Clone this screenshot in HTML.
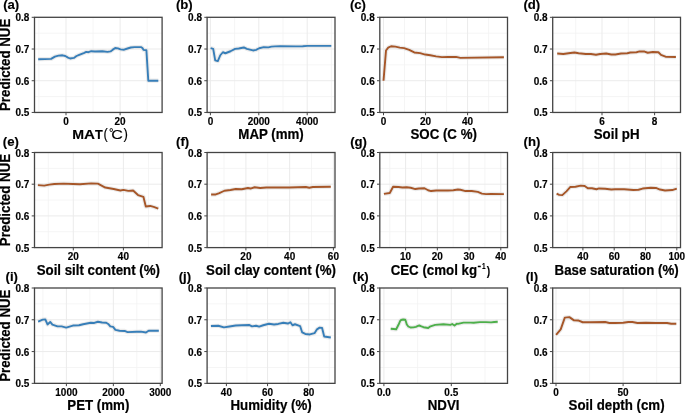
<!DOCTYPE html><html><head><meta charset="utf-8"><style>
html,body{margin:0;padding:0;background:#fff;}
svg{display:block;will-change:transform;}
text{font-family:"Liberation Sans",sans-serif;}
.tk{font-size:10.00px;font-weight:bold;fill:#000;}
.tt{font-size:13.30px;font-weight:bold;fill:#000;stroke:#000;stroke-width:0.2px;}
.lb{font-size:13.15px;font-weight:bold;fill:#000;}
path.tp{fill:#000;stroke:#000;stroke-width:0.25px;}
text.tx{fill:#000;stroke:#000;stroke-width:0.15px;}
text.t2{fill:#000;stroke:#000;stroke-width:0.20px;}
</style></head><body>
<svg width="685" height="413" viewBox="0 0 685 413">
<rect x="0" y="0" width="685" height="413" fill="#fff"/>
<g><clipPath id="cpa"><rect x="34.50" y="17.30" width="127.60" height="95.15"/></clipPath><line x1="38.95" y1="17.30" x2="38.95" y2="112.45" stroke="#F2F2F2" stroke-width="0.8"/><line x1="93.05" y1="17.30" x2="93.05" y2="112.45" stroke="#F2F2F2" stroke-width="0.8"/><line x1="147.15" y1="17.30" x2="147.15" y2="112.45" stroke="#F2F2F2" stroke-width="0.8"/><line x1="34.50" y1="96.59" x2="162.10" y2="96.59" stroke="#F2F2F2" stroke-width="0.8"/><line x1="34.50" y1="64.88" x2="162.10" y2="64.88" stroke="#F2F2F2" stroke-width="0.8"/><line x1="34.50" y1="33.16" x2="162.10" y2="33.16" stroke="#F2F2F2" stroke-width="0.8"/><line x1="66.00" y1="17.30" x2="66.00" y2="112.45" stroke="#EBEBEB" stroke-width="1"/><line x1="120.10" y1="17.30" x2="120.10" y2="112.45" stroke="#EBEBEB" stroke-width="1"/><line x1="34.50" y1="80.73" x2="162.10" y2="80.73" stroke="#EBEBEB" stroke-width="1"/><line x1="34.50" y1="49.02" x2="162.10" y2="49.02" stroke="#EBEBEB" stroke-width="1"/><path d="M38.20 59.20 L51.10 58.90 L54.90 56.60 L58.50 55.60 L62.50 55.30 L65.30 56.00 L68.00 57.60 L70.10 58.50 L73.90 57.90 L76.50 56.00 L78.60 55.10 L84.30 52.80 L86.20 51.90 L88.40 52.20 L91.30 51.20 L95.00 51.50 L102.30 51.20 L107.50 51.90 L110.50 51.40 L112.50 49.90 L115.20 48.00 L118.00 48.40 L120.50 49.40 L124.10 49.70 L127.50 48.50 L130.80 47.50 L134.60 47.10 L141.30 47.10 L142.60 48.30 L143.60 49.90 L146.40 50.30 L148.30 80.70 L158.30 80.70" fill="none" stroke="#DDDDDD" stroke-opacity="0.6" stroke-width="4.2" stroke-linejoin="round" stroke-linecap="butt" clip-path="url(#cpa)"/><path d="M38.20 59.20 L51.10 58.90 L54.90 56.60 L58.50 55.60 L62.50 55.30 L65.30 56.00 L68.00 57.60 L70.10 58.50 L73.90 57.90 L76.50 56.00 L78.60 55.10 L84.30 52.80 L86.20 51.90 L88.40 52.20 L91.30 51.20 L95.00 51.50 L102.30 51.20 L107.50 51.90 L110.50 51.40 L112.50 49.90 L115.20 48.00 L118.00 48.40 L120.50 49.40 L124.10 49.70 L127.50 48.50 L130.80 47.50 L134.60 47.10 L141.30 47.10 L142.60 48.30 L143.60 49.90 L146.40 50.30 L148.30 80.70 L158.30 80.70" fill="none" stroke="#377EB8" stroke-width="1.9" stroke-linejoin="round" stroke-linecap="butt" clip-path="url(#cpa)"/><rect x="34.50" y="17.30" width="127.60" height="95.15" fill="none" stroke="#444" stroke-width="1.3"/><line x1="31.70" y1="112.45" x2="34.50" y2="112.45" stroke="#444" stroke-width="1.0"/><text class="tx" x="0" y="0" text-anchor="end" transform="translate(29.40 116.45) scale(1 1.0400)" style="font-size:10.00px;font-weight:bold;">0.5</text><line x1="31.70" y1="80.73" x2="34.50" y2="80.73" stroke="#444" stroke-width="1.0"/><text class="tx" x="0" y="0" text-anchor="end" transform="translate(29.40 84.73) scale(1 1.0400)" style="font-size:10.00px;font-weight:bold;">0.6</text><line x1="31.70" y1="49.02" x2="34.50" y2="49.02" stroke="#444" stroke-width="1.0"/><text class="tx" x="0" y="0" text-anchor="end" transform="translate(29.40 53.02) scale(1 1.0400)" style="font-size:10.00px;font-weight:bold;">0.7</text><line x1="31.70" y1="17.30" x2="34.50" y2="17.30" stroke="#444" stroke-width="1.0"/><text class="tx" x="0" y="0" text-anchor="end" transform="translate(29.40 21.30) scale(1 1.0400)" style="font-size:10.00px;font-weight:bold;">0.8</text><line x1="66.00" y1="112.45" x2="66.00" y2="115.25" stroke="#444" stroke-width="1.0"/><text class="tx" x="0" y="0" text-anchor="middle" transform="translate(66.00 124.80) scale(1 1.0400)" style="font-size:10.00px;font-weight:bold;">0</text><line x1="120.10" y1="112.45" x2="120.10" y2="115.25" stroke="#444" stroke-width="1.0"/><text class="tx" x="0" y="0" text-anchor="middle" transform="translate(120.10 124.80) scale(1 1.0400)" style="font-size:10.00px;font-weight:bold;">20</text><text class="tx" x="0" y="0" transform="translate(72.15 139.00) scale(1.0945 1)" style="font-size:12.94px;font-weight:bold;">M</text><text class="tx" x="0" y="0" transform="translate(84.02 139.00) scale(1.1753 1)" style="font-size:12.94px;font-weight:bold;">A</text><text class="tx" x="0" y="0" transform="translate(94.96 139.00) scale(0.9845 1)" style="font-size:12.94px;font-weight:bold;">T</text><text class="tx" x="0" y="0" transform="translate(103.50 138.89) scale(0.9120 1)" style="font-size:14.06px;font-weight:normal;">(</text><text class="tx" x="0" y="0" transform="translate(108.92 137.33) scale(0.8827 1)" style="font-size:12.93px;font-weight:normal;">°</text><text class="tx" x="0" y="0" transform="translate(111.18 139.07) scale(1.2262 1)" style="font-size:13.14px;font-weight:normal;">C</text><text class="tx" x="0" y="0" transform="translate(123.62 138.89) scale(0.9388 1)" style="font-size:14.06px;font-weight:normal;">)</text><g transform="translate(9.50 64.88) rotate(-90)"><text class="t2" x="0" y="0" text-anchor="middle" transform="translate(0.00 0.00) scale(1 1.0500)" style="font-size:13.30px;font-weight:bold;">Predicted NUE</text></g><text class="tx" x="3.20" y="8.95" style="font-size:13.15px;font-weight:bold;">(a)</text></g>
<g><clipPath id="cpb"><rect x="207.10" y="17.30" width="127.90" height="95.15"/></clipPath><line x1="234.60" y1="17.30" x2="234.60" y2="112.45" stroke="#F2F2F2" stroke-width="0.8"/><line x1="283.00" y1="17.30" x2="283.00" y2="112.45" stroke="#F2F2F2" stroke-width="0.8"/><line x1="331.40" y1="17.30" x2="331.40" y2="112.45" stroke="#F2F2F2" stroke-width="0.8"/><line x1="207.10" y1="96.59" x2="335.00" y2="96.59" stroke="#F2F2F2" stroke-width="0.8"/><line x1="207.10" y1="64.88" x2="335.00" y2="64.88" stroke="#F2F2F2" stroke-width="0.8"/><line x1="207.10" y1="33.16" x2="335.00" y2="33.16" stroke="#F2F2F2" stroke-width="0.8"/><line x1="210.40" y1="17.30" x2="210.40" y2="112.45" stroke="#EBEBEB" stroke-width="1"/><line x1="258.80" y1="17.30" x2="258.80" y2="112.45" stroke="#EBEBEB" stroke-width="1"/><line x1="307.20" y1="17.30" x2="307.20" y2="112.45" stroke="#EBEBEB" stroke-width="1"/><line x1="207.10" y1="80.73" x2="335.00" y2="80.73" stroke="#EBEBEB" stroke-width="1"/><line x1="207.10" y1="49.02" x2="335.00" y2="49.02" stroke="#EBEBEB" stroke-width="1"/><path d="M210.60 48.15 L213.20 48.85 L215.20 60.35 L217.80 61.15 L220.30 55.25 L222.90 52.25 L225.40 53.25 L230.50 51.25 L235.10 48.85 L238.70 48.45 L243.80 47.45 L246.90 48.95 L253.00 50.45 L256.10 49.85 L259.20 48.25 L263.80 47.15 L268.40 47.35 L271.40 46.65 L275.00 46.35 L280.20 46.25 L295.50 46.35 L302.70 46.25 L307.30 45.85 L331.30 45.85" fill="none" stroke="#DDDDDD" stroke-opacity="0.6" stroke-width="4.2" stroke-linejoin="round" stroke-linecap="butt" clip-path="url(#cpb)"/><path d="M210.60 48.15 L213.20 48.85 L215.20 60.35 L217.80 61.15 L220.30 55.25 L222.90 52.25 L225.40 53.25 L230.50 51.25 L235.10 48.85 L238.70 48.45 L243.80 47.45 L246.90 48.95 L253.00 50.45 L256.10 49.85 L259.20 48.25 L263.80 47.15 L268.40 47.35 L271.40 46.65 L275.00 46.35 L280.20 46.25 L295.50 46.35 L302.70 46.25 L307.30 45.85 L331.30 45.85" fill="none" stroke="#377EB8" stroke-width="1.9" stroke-linejoin="round" stroke-linecap="butt" clip-path="url(#cpb)"/><rect x="207.10" y="17.30" width="127.90" height="95.15" fill="none" stroke="#444" stroke-width="1.3"/><line x1="204.30" y1="112.45" x2="207.10" y2="112.45" stroke="#444" stroke-width="1.0"/><text class="tx" x="0" y="0" text-anchor="end" transform="translate(202.00 116.45) scale(1 1.0400)" style="font-size:10.00px;font-weight:bold;">0.5</text><line x1="204.30" y1="80.73" x2="207.10" y2="80.73" stroke="#444" stroke-width="1.0"/><text class="tx" x="0" y="0" text-anchor="end" transform="translate(202.00 84.73) scale(1 1.0400)" style="font-size:10.00px;font-weight:bold;">0.6</text><line x1="204.30" y1="49.02" x2="207.10" y2="49.02" stroke="#444" stroke-width="1.0"/><text class="tx" x="0" y="0" text-anchor="end" transform="translate(202.00 53.02) scale(1 1.0400)" style="font-size:10.00px;font-weight:bold;">0.7</text><line x1="204.30" y1="17.30" x2="207.10" y2="17.30" stroke="#444" stroke-width="1.0"/><text class="tx" x="0" y="0" text-anchor="end" transform="translate(202.00 21.30) scale(1 1.0400)" style="font-size:10.00px;font-weight:bold;">0.8</text><line x1="210.40" y1="112.45" x2="210.40" y2="115.25" stroke="#444" stroke-width="1.0"/><text class="tx" x="0" y="0" text-anchor="middle" transform="translate(210.40 124.80) scale(1 1.0400)" style="font-size:10.00px;font-weight:bold;">0</text><line x1="258.80" y1="112.45" x2="258.80" y2="115.25" stroke="#444" stroke-width="1.0"/><text class="tx" x="0" y="0" text-anchor="middle" transform="translate(258.80 124.80) scale(1 1.0400)" style="font-size:10.00px;font-weight:bold;">2000</text><line x1="307.20" y1="112.45" x2="307.20" y2="115.25" stroke="#444" stroke-width="1.0"/><text class="tx" x="0" y="0" text-anchor="middle" transform="translate(307.20 124.80) scale(1 1.0400)" style="font-size:10.00px;font-weight:bold;">4000</text><text class="t2" x="0" y="0" text-anchor="middle" transform="translate(271.05 139.10) scale(1 1.0500)" style="font-size:13.30px;font-weight:bold;">MAP (mm)</text><text class="tx" x="175.90" y="8.95" style="font-size:13.15px;font-weight:bold;">(b)</text></g>
<g><clipPath id="cpc"><rect x="379.80" y="17.30" width="127.70" height="95.15"/></clipPath><line x1="404.52" y1="17.30" x2="404.52" y2="112.45" stroke="#F2F2F2" stroke-width="0.8"/><line x1="446.56" y1="17.30" x2="446.56" y2="112.45" stroke="#F2F2F2" stroke-width="0.8"/><line x1="488.60" y1="17.30" x2="488.60" y2="112.45" stroke="#F2F2F2" stroke-width="0.8"/><line x1="379.80" y1="96.59" x2="507.50" y2="96.59" stroke="#F2F2F2" stroke-width="0.8"/><line x1="379.80" y1="64.88" x2="507.50" y2="64.88" stroke="#F2F2F2" stroke-width="0.8"/><line x1="379.80" y1="33.16" x2="507.50" y2="33.16" stroke="#F2F2F2" stroke-width="0.8"/><line x1="383.50" y1="17.30" x2="383.50" y2="112.45" stroke="#EBEBEB" stroke-width="1"/><line x1="425.54" y1="17.30" x2="425.54" y2="112.45" stroke="#EBEBEB" stroke-width="1"/><line x1="467.58" y1="17.30" x2="467.58" y2="112.45" stroke="#EBEBEB" stroke-width="1"/><line x1="379.80" y1="80.73" x2="507.50" y2="80.73" stroke="#EBEBEB" stroke-width="1"/><line x1="379.80" y1="49.02" x2="507.50" y2="49.02" stroke="#EBEBEB" stroke-width="1"/><path d="M383.50 80.75 L386.00 50.55 L388.20 47.65 L391.10 46.25 L395.40 46.65 L399.80 47.65 L404.10 48.15 L409.20 49.85 L414.30 52.45 L420.10 53.15 L425.20 54.55 L430.30 55.25 L436.10 56.35 L441.90 57.15 L448.00 56.95 L456.00 56.85 L460.30 57.85 L503.90 57.25" fill="none" stroke="#DDDDDD" stroke-opacity="0.6" stroke-width="4.2" stroke-linejoin="round" stroke-linecap="butt" clip-path="url(#cpc)"/><path d="M383.50 80.75 L386.00 50.55 L388.20 47.65 L391.10 46.25 L395.40 46.65 L399.80 47.65 L404.10 48.15 L409.20 49.85 L414.30 52.45 L420.10 53.15 L425.20 54.55 L430.30 55.25 L436.10 56.35 L441.90 57.15 L448.00 56.95 L456.00 56.85 L460.30 57.85 L503.90 57.25" fill="none" stroke="#A65628" stroke-width="1.9" stroke-linejoin="round" stroke-linecap="butt" clip-path="url(#cpc)"/><rect x="379.80" y="17.30" width="127.70" height="95.15" fill="none" stroke="#444" stroke-width="1.3"/><line x1="377.00" y1="112.45" x2="379.80" y2="112.45" stroke="#444" stroke-width="1.0"/><text class="tx" x="0" y="0" text-anchor="end" transform="translate(374.70 116.45) scale(1 1.0400)" style="font-size:10.00px;font-weight:bold;">0.5</text><line x1="377.00" y1="80.73" x2="379.80" y2="80.73" stroke="#444" stroke-width="1.0"/><text class="tx" x="0" y="0" text-anchor="end" transform="translate(374.70 84.73) scale(1 1.0400)" style="font-size:10.00px;font-weight:bold;">0.6</text><line x1="377.00" y1="49.02" x2="379.80" y2="49.02" stroke="#444" stroke-width="1.0"/><text class="tx" x="0" y="0" text-anchor="end" transform="translate(374.70 53.02) scale(1 1.0400)" style="font-size:10.00px;font-weight:bold;">0.7</text><line x1="377.00" y1="17.30" x2="379.80" y2="17.30" stroke="#444" stroke-width="1.0"/><text class="tx" x="0" y="0" text-anchor="end" transform="translate(374.70 21.30) scale(1 1.0400)" style="font-size:10.00px;font-weight:bold;">0.8</text><line x1="383.50" y1="112.45" x2="383.50" y2="115.25" stroke="#444" stroke-width="1.0"/><text class="tx" x="0" y="0" text-anchor="middle" transform="translate(383.50 124.80) scale(1 1.0400)" style="font-size:10.00px;font-weight:bold;">0</text><line x1="425.54" y1="112.45" x2="425.54" y2="115.25" stroke="#444" stroke-width="1.0"/><text class="tx" x="0" y="0" text-anchor="middle" transform="translate(425.54 124.80) scale(1 1.0400)" style="font-size:10.00px;font-weight:bold;">20</text><line x1="467.58" y1="112.45" x2="467.58" y2="115.25" stroke="#444" stroke-width="1.0"/><text class="tx" x="0" y="0" text-anchor="middle" transform="translate(467.58 124.80) scale(1 1.0400)" style="font-size:10.00px;font-weight:bold;">40</text><text class="t2" x="0" y="0" text-anchor="middle" transform="translate(443.65 139.10) scale(1 1.0500)" style="font-size:13.30px;font-weight:bold;">SOC (C %)</text><text class="tx" x="349.90" y="8.95" style="font-size:13.15px;font-weight:bold;">(c)</text></g>
<g><clipPath id="cpd"><rect x="552.70" y="17.30" width="127.80" height="95.15"/></clipPath><line x1="575.70" y1="17.30" x2="575.70" y2="112.45" stroke="#F2F2F2" stroke-width="0.8"/><line x1="628.30" y1="17.30" x2="628.30" y2="112.45" stroke="#F2F2F2" stroke-width="0.8"/><line x1="552.70" y1="96.59" x2="680.50" y2="96.59" stroke="#F2F2F2" stroke-width="0.8"/><line x1="552.70" y1="64.88" x2="680.50" y2="64.88" stroke="#F2F2F2" stroke-width="0.8"/><line x1="552.70" y1="33.16" x2="680.50" y2="33.16" stroke="#F2F2F2" stroke-width="0.8"/><line x1="602.00" y1="17.30" x2="602.00" y2="112.45" stroke="#EBEBEB" stroke-width="1"/><line x1="654.60" y1="17.30" x2="654.60" y2="112.45" stroke="#EBEBEB" stroke-width="1"/><line x1="552.70" y1="80.73" x2="680.50" y2="80.73" stroke="#EBEBEB" stroke-width="1"/><line x1="552.70" y1="49.02" x2="680.50" y2="49.02" stroke="#EBEBEB" stroke-width="1"/><path d="M557.20 53.55 L563.30 53.95 L570.40 53.05 L574.50 52.45 L578.60 53.25 L585.80 54.05 L590.90 53.95 L596.00 54.75 L600.10 53.95 L606.20 53.55 L611.30 54.55 L615.40 54.45 L621.10 53.55 L627.30 53.25 L630.30 52.55 L636.50 52.25 L639.50 51.45 L644.60 51.55 L647.70 52.75 L652.80 51.95 L658.40 52.25 L661.00 54.95 L666.10 56.85 L675.90 57.05" fill="none" stroke="#DDDDDD" stroke-opacity="0.6" stroke-width="4.2" stroke-linejoin="round" stroke-linecap="butt" clip-path="url(#cpd)"/><path d="M557.20 53.55 L563.30 53.95 L570.40 53.05 L574.50 52.45 L578.60 53.25 L585.80 54.05 L590.90 53.95 L596.00 54.75 L600.10 53.95 L606.20 53.55 L611.30 54.55 L615.40 54.45 L621.10 53.55 L627.30 53.25 L630.30 52.55 L636.50 52.25 L639.50 51.45 L644.60 51.55 L647.70 52.75 L652.80 51.95 L658.40 52.25 L661.00 54.95 L666.10 56.85 L675.90 57.05" fill="none" stroke="#A65628" stroke-width="1.9" stroke-linejoin="round" stroke-linecap="butt" clip-path="url(#cpd)"/><rect x="552.70" y="17.30" width="127.80" height="95.15" fill="none" stroke="#444" stroke-width="1.3"/><line x1="549.90" y1="112.45" x2="552.70" y2="112.45" stroke="#444" stroke-width="1.0"/><text class="tx" x="0" y="0" text-anchor="end" transform="translate(547.60 116.45) scale(1 1.0400)" style="font-size:10.00px;font-weight:bold;">0.5</text><line x1="549.90" y1="80.73" x2="552.70" y2="80.73" stroke="#444" stroke-width="1.0"/><text class="tx" x="0" y="0" text-anchor="end" transform="translate(547.60 84.73) scale(1 1.0400)" style="font-size:10.00px;font-weight:bold;">0.6</text><line x1="549.90" y1="49.02" x2="552.70" y2="49.02" stroke="#444" stroke-width="1.0"/><text class="tx" x="0" y="0" text-anchor="end" transform="translate(547.60 53.02) scale(1 1.0400)" style="font-size:10.00px;font-weight:bold;">0.7</text><line x1="549.90" y1="17.30" x2="552.70" y2="17.30" stroke="#444" stroke-width="1.0"/><text class="tx" x="0" y="0" text-anchor="end" transform="translate(547.60 21.30) scale(1 1.0400)" style="font-size:10.00px;font-weight:bold;">0.8</text><line x1="602.00" y1="112.45" x2="602.00" y2="115.25" stroke="#444" stroke-width="1.0"/><text class="tx" x="0" y="0" text-anchor="middle" transform="translate(602.00 124.80) scale(1 1.0400)" style="font-size:10.00px;font-weight:bold;">6</text><line x1="654.60" y1="112.45" x2="654.60" y2="115.25" stroke="#444" stroke-width="1.0"/><text class="tx" x="0" y="0" text-anchor="middle" transform="translate(654.60 124.80) scale(1 1.0400)" style="font-size:10.00px;font-weight:bold;">8</text><text class="t2" x="0" y="0" text-anchor="middle" transform="translate(616.60 139.10) scale(1 1.0500)" style="font-size:13.30px;font-weight:bold;">Soil pH</text><text class="tx" x="523.40" y="8.95" style="font-size:13.15px;font-weight:bold;">(d)</text></g>
<g><clipPath id="cpe"><rect x="34.50" y="152.50" width="127.60" height="95.10"/></clipPath><line x1="48.25" y1="152.50" x2="48.25" y2="247.60" stroke="#F2F2F2" stroke-width="0.8"/><line x1="98.35" y1="152.50" x2="98.35" y2="247.60" stroke="#F2F2F2" stroke-width="0.8"/><line x1="148.45" y1="152.50" x2="148.45" y2="247.60" stroke="#F2F2F2" stroke-width="0.8"/><line x1="34.50" y1="231.75" x2="162.10" y2="231.75" stroke="#F2F2F2" stroke-width="0.8"/><line x1="34.50" y1="200.05" x2="162.10" y2="200.05" stroke="#F2F2F2" stroke-width="0.8"/><line x1="34.50" y1="168.35" x2="162.10" y2="168.35" stroke="#F2F2F2" stroke-width="0.8"/><line x1="73.30" y1="152.50" x2="73.30" y2="247.60" stroke="#EBEBEB" stroke-width="1"/><line x1="123.40" y1="152.50" x2="123.40" y2="247.60" stroke="#EBEBEB" stroke-width="1"/><line x1="34.50" y1="215.90" x2="162.10" y2="215.90" stroke="#EBEBEB" stroke-width="1"/><line x1="34.50" y1="184.20" x2="162.10" y2="184.20" stroke="#EBEBEB" stroke-width="1"/><path d="M37.90 185.15 L44.20 185.65 L49.30 184.65 L54.40 183.95 L63.60 183.65 L72.80 183.95 L80.00 184.25 L91.20 183.35 L97.90 183.65 L105.30 187.55 L113.70 189.05 L120.40 190.45 L123.40 189.85 L128.30 190.85 L133.10 190.55 L138.00 195.05 L143.40 196.85 L145.80 206.55 L150.10 205.95 L153.70 206.95 L158.30 208.55" fill="none" stroke="#DDDDDD" stroke-opacity="0.6" stroke-width="4.2" stroke-linejoin="round" stroke-linecap="butt" clip-path="url(#cpe)"/><path d="M37.90 185.15 L44.20 185.65 L49.30 184.65 L54.40 183.95 L63.60 183.65 L72.80 183.95 L80.00 184.25 L91.20 183.35 L97.90 183.65 L105.30 187.55 L113.70 189.05 L120.40 190.45 L123.40 189.85 L128.30 190.85 L133.10 190.55 L138.00 195.05 L143.40 196.85 L145.80 206.55 L150.10 205.95 L153.70 206.95 L158.30 208.55" fill="none" stroke="#A65628" stroke-width="1.9" stroke-linejoin="round" stroke-linecap="butt" clip-path="url(#cpe)"/><rect x="34.50" y="152.50" width="127.60" height="95.10" fill="none" stroke="#444" stroke-width="1.3"/><line x1="31.70" y1="247.60" x2="34.50" y2="247.60" stroke="#444" stroke-width="1.0"/><text class="tx" x="0" y="0" text-anchor="end" transform="translate(29.40 251.60) scale(1 1.0400)" style="font-size:10.00px;font-weight:bold;">0.5</text><line x1="31.70" y1="215.90" x2="34.50" y2="215.90" stroke="#444" stroke-width="1.0"/><text class="tx" x="0" y="0" text-anchor="end" transform="translate(29.40 219.90) scale(1 1.0400)" style="font-size:10.00px;font-weight:bold;">0.6</text><line x1="31.70" y1="184.20" x2="34.50" y2="184.20" stroke="#444" stroke-width="1.0"/><text class="tx" x="0" y="0" text-anchor="end" transform="translate(29.40 188.20) scale(1 1.0400)" style="font-size:10.00px;font-weight:bold;">0.7</text><line x1="31.70" y1="152.50" x2="34.50" y2="152.50" stroke="#444" stroke-width="1.0"/><text class="tx" x="0" y="0" text-anchor="end" transform="translate(29.40 156.50) scale(1 1.0400)" style="font-size:10.00px;font-weight:bold;">0.8</text><line x1="73.30" y1="247.60" x2="73.30" y2="250.40" stroke="#444" stroke-width="1.0"/><text class="tx" x="0" y="0" text-anchor="middle" transform="translate(73.30 259.95) scale(1 1.0400)" style="font-size:10.00px;font-weight:bold;">20</text><line x1="123.40" y1="247.60" x2="123.40" y2="250.40" stroke="#444" stroke-width="1.0"/><text class="tx" x="0" y="0" text-anchor="middle" transform="translate(123.40 259.95) scale(1 1.0400)" style="font-size:10.00px;font-weight:bold;">40</text><text class="t2" x="0" y="0" text-anchor="middle" transform="translate(98.30 274.60) scale(1 1.0500)" style="font-size:13.30px;font-weight:bold;">Soil silt content (%)</text><g transform="translate(9.50 200.05) rotate(-90)"><text class="t2" x="0" y="0" text-anchor="middle" transform="translate(0.00 0.00) scale(1 1.0500)" style="font-size:13.30px;font-weight:bold;">Predicted NUE</text></g><text class="tx" x="2.80" y="145.55" style="font-size:13.15px;font-weight:bold;">(e)</text></g>
<g><clipPath id="cpf"><rect x="207.10" y="152.50" width="127.90" height="95.10"/></clipPath><line x1="224.03" y1="152.50" x2="224.03" y2="247.60" stroke="#F2F2F2" stroke-width="0.8"/><line x1="267.77" y1="152.50" x2="267.77" y2="247.60" stroke="#F2F2F2" stroke-width="0.8"/><line x1="311.52" y1="152.50" x2="311.52" y2="247.60" stroke="#F2F2F2" stroke-width="0.8"/><line x1="207.10" y1="231.75" x2="335.00" y2="231.75" stroke="#F2F2F2" stroke-width="0.8"/><line x1="207.10" y1="200.05" x2="335.00" y2="200.05" stroke="#F2F2F2" stroke-width="0.8"/><line x1="207.10" y1="168.35" x2="335.00" y2="168.35" stroke="#F2F2F2" stroke-width="0.8"/><line x1="245.90" y1="152.50" x2="245.90" y2="247.60" stroke="#EBEBEB" stroke-width="1"/><line x1="289.65" y1="152.50" x2="289.65" y2="247.60" stroke="#EBEBEB" stroke-width="1"/><line x1="333.40" y1="152.50" x2="333.40" y2="247.60" stroke="#EBEBEB" stroke-width="1"/><line x1="207.10" y1="215.90" x2="335.00" y2="215.90" stroke="#EBEBEB" stroke-width="1"/><line x1="207.10" y1="184.20" x2="335.00" y2="184.20" stroke="#EBEBEB" stroke-width="1"/><path d="M211.10 194.55 L215.20 194.55 L219.30 193.05 L224.40 190.75 L230.50 190.05 L235.70 189.05 L241.80 189.25 L247.90 187.95 L250.50 188.55 L254.60 187.25 L260.20 187.95 L266.30 187.55 L275.00 187.45 L289.40 187.55 L305.80 186.95 L309.30 187.75 L312.90 187.05 L330.80 186.75" fill="none" stroke="#DDDDDD" stroke-opacity="0.6" stroke-width="4.2" stroke-linejoin="round" stroke-linecap="butt" clip-path="url(#cpf)"/><path d="M211.10 194.55 L215.20 194.55 L219.30 193.05 L224.40 190.75 L230.50 190.05 L235.70 189.05 L241.80 189.25 L247.90 187.95 L250.50 188.55 L254.60 187.25 L260.20 187.95 L266.30 187.55 L275.00 187.45 L289.40 187.55 L305.80 186.95 L309.30 187.75 L312.90 187.05 L330.80 186.75" fill="none" stroke="#A65628" stroke-width="1.9" stroke-linejoin="round" stroke-linecap="butt" clip-path="url(#cpf)"/><rect x="207.10" y="152.50" width="127.90" height="95.10" fill="none" stroke="#444" stroke-width="1.3"/><line x1="204.30" y1="247.60" x2="207.10" y2="247.60" stroke="#444" stroke-width="1.0"/><text class="tx" x="0" y="0" text-anchor="end" transform="translate(202.00 251.60) scale(1 1.0400)" style="font-size:10.00px;font-weight:bold;">0.5</text><line x1="204.30" y1="215.90" x2="207.10" y2="215.90" stroke="#444" stroke-width="1.0"/><text class="tx" x="0" y="0" text-anchor="end" transform="translate(202.00 219.90) scale(1 1.0400)" style="font-size:10.00px;font-weight:bold;">0.6</text><line x1="204.30" y1="184.20" x2="207.10" y2="184.20" stroke="#444" stroke-width="1.0"/><text class="tx" x="0" y="0" text-anchor="end" transform="translate(202.00 188.20) scale(1 1.0400)" style="font-size:10.00px;font-weight:bold;">0.7</text><line x1="204.30" y1="152.50" x2="207.10" y2="152.50" stroke="#444" stroke-width="1.0"/><text class="tx" x="0" y="0" text-anchor="end" transform="translate(202.00 156.50) scale(1 1.0400)" style="font-size:10.00px;font-weight:bold;">0.8</text><line x1="245.90" y1="247.60" x2="245.90" y2="250.40" stroke="#444" stroke-width="1.0"/><text class="tx" x="0" y="0" text-anchor="middle" transform="translate(245.90 259.95) scale(1 1.0400)" style="font-size:10.00px;font-weight:bold;">20</text><line x1="289.65" y1="247.60" x2="289.65" y2="250.40" stroke="#444" stroke-width="1.0"/><text class="tx" x="0" y="0" text-anchor="middle" transform="translate(289.65 259.95) scale(1 1.0400)" style="font-size:10.00px;font-weight:bold;">40</text><line x1="333.40" y1="247.60" x2="333.40" y2="250.40" stroke="#444" stroke-width="1.0"/><text class="tx" x="0" y="0" text-anchor="middle" transform="translate(333.40 259.95) scale(1 1.0400)" style="font-size:10.00px;font-weight:bold;">60</text><text class="t2" x="0" y="0" text-anchor="middle" transform="translate(271.05 274.60) scale(1 1.0500)" style="font-size:13.30px;font-weight:bold;">Soil clay content (%)</text><text class="tx" x="176.10" y="145.55" style="font-size:13.15px;font-weight:bold;">(f)</text></g>
<g><clipPath id="cpg"><rect x="379.80" y="152.50" width="127.70" height="95.10"/></clipPath><line x1="389.73" y1="152.50" x2="389.73" y2="247.60" stroke="#F2F2F2" stroke-width="0.8"/><line x1="421.47" y1="152.50" x2="421.47" y2="247.60" stroke="#F2F2F2" stroke-width="0.8"/><line x1="453.20" y1="152.50" x2="453.20" y2="247.60" stroke="#F2F2F2" stroke-width="0.8"/><line x1="484.93" y1="152.50" x2="484.93" y2="247.60" stroke="#F2F2F2" stroke-width="0.8"/><line x1="379.80" y1="231.75" x2="507.50" y2="231.75" stroke="#F2F2F2" stroke-width="0.8"/><line x1="379.80" y1="200.05" x2="507.50" y2="200.05" stroke="#F2F2F2" stroke-width="0.8"/><line x1="379.80" y1="168.35" x2="507.50" y2="168.35" stroke="#F2F2F2" stroke-width="0.8"/><line x1="405.60" y1="152.50" x2="405.60" y2="247.60" stroke="#EBEBEB" stroke-width="1"/><line x1="437.33" y1="152.50" x2="437.33" y2="247.60" stroke="#EBEBEB" stroke-width="1"/><line x1="469.07" y1="152.50" x2="469.07" y2="247.60" stroke="#EBEBEB" stroke-width="1"/><line x1="500.80" y1="152.50" x2="500.80" y2="247.60" stroke="#EBEBEB" stroke-width="1"/><line x1="379.80" y1="215.90" x2="507.50" y2="215.90" stroke="#EBEBEB" stroke-width="1"/><line x1="379.80" y1="184.20" x2="507.50" y2="184.20" stroke="#EBEBEB" stroke-width="1"/><path d="M383.90 193.85 L389.80 193.05 L393.10 186.75 L398.40 187.05 L402.50 187.55 L406.60 187.25 L410.70 187.75 L415.30 189.05 L418.90 188.55 L424.50 188.25 L428.10 190.25 L431.10 191.05 L436.20 190.55 L448.00 190.55 L453.30 190.25 L457.90 189.55 L460.40 189.75 L465.50 191.05 L471.70 191.05 L477.80 191.85 L481.90 193.65 L486.00 194.15 L491.10 193.85 L503.90 194.15" fill="none" stroke="#DDDDDD" stroke-opacity="0.6" stroke-width="4.2" stroke-linejoin="round" stroke-linecap="butt" clip-path="url(#cpg)"/><path d="M383.90 193.85 L389.80 193.05 L393.10 186.75 L398.40 187.05 L402.50 187.55 L406.60 187.25 L410.70 187.75 L415.30 189.05 L418.90 188.55 L424.50 188.25 L428.10 190.25 L431.10 191.05 L436.20 190.55 L448.00 190.55 L453.30 190.25 L457.90 189.55 L460.40 189.75 L465.50 191.05 L471.70 191.05 L477.80 191.85 L481.90 193.65 L486.00 194.15 L491.10 193.85 L503.90 194.15" fill="none" stroke="#A65628" stroke-width="1.9" stroke-linejoin="round" stroke-linecap="butt" clip-path="url(#cpg)"/><rect x="379.80" y="152.50" width="127.70" height="95.10" fill="none" stroke="#444" stroke-width="1.3"/><line x1="377.00" y1="247.60" x2="379.80" y2="247.60" stroke="#444" stroke-width="1.0"/><text class="tx" x="0" y="0" text-anchor="end" transform="translate(374.70 251.60) scale(1 1.0400)" style="font-size:10.00px;font-weight:bold;">0.5</text><line x1="377.00" y1="215.90" x2="379.80" y2="215.90" stroke="#444" stroke-width="1.0"/><text class="tx" x="0" y="0" text-anchor="end" transform="translate(374.70 219.90) scale(1 1.0400)" style="font-size:10.00px;font-weight:bold;">0.6</text><line x1="377.00" y1="184.20" x2="379.80" y2="184.20" stroke="#444" stroke-width="1.0"/><text class="tx" x="0" y="0" text-anchor="end" transform="translate(374.70 188.20) scale(1 1.0400)" style="font-size:10.00px;font-weight:bold;">0.7</text><line x1="377.00" y1="152.50" x2="379.80" y2="152.50" stroke="#444" stroke-width="1.0"/><text class="tx" x="0" y="0" text-anchor="end" transform="translate(374.70 156.50) scale(1 1.0400)" style="font-size:10.00px;font-weight:bold;">0.8</text><line x1="405.60" y1="247.60" x2="405.60" y2="250.40" stroke="#444" stroke-width="1.0"/><text class="tx" x="0" y="0" text-anchor="middle" transform="translate(405.60 259.95) scale(1 1.0400)" style="font-size:10.00px;font-weight:bold;">10</text><line x1="437.33" y1="247.60" x2="437.33" y2="250.40" stroke="#444" stroke-width="1.0"/><text class="tx" x="0" y="0" text-anchor="middle" transform="translate(437.33 259.95) scale(1 1.0400)" style="font-size:10.00px;font-weight:bold;">20</text><line x1="469.07" y1="247.60" x2="469.07" y2="250.40" stroke="#444" stroke-width="1.0"/><text class="tx" x="0" y="0" text-anchor="middle" transform="translate(469.07 259.95) scale(1 1.0400)" style="font-size:10.00px;font-weight:bold;">30</text><line x1="500.80" y1="247.60" x2="500.80" y2="250.40" stroke="#444" stroke-width="1.0"/><text class="tx" x="0" y="0" text-anchor="middle" transform="translate(500.80 259.95) scale(1 1.0400)" style="font-size:10.00px;font-weight:bold;">40</text><text class="t2" x="0" y="0" transform="translate(390.65 274.60) scale(1 1.0500)" style="font-size:13.30px;font-weight:bold;">CEC (cmol kg</text><text class="tx" x="0" y="0" transform="translate(477.57 269.15) scale(0.9385 1)" style="font-size:11.75px;font-weight:bold;">-</text><text class="tx" x="0" y="0" transform="translate(481.89 268.80) scale(0.6620 1)" style="font-size:9.74px;font-weight:bold;">1</text><text class="tx" x="0" y="0" transform="translate(486.69 274.62) scale(0.7662 1)" style="font-size:13.41px;font-weight:bold;">)</text><text class="tx" x="350.20" y="145.55" style="font-size:13.15px;font-weight:bold;">(g)</text></g>
<g><clipPath id="cph"><rect x="552.70" y="152.50" width="127.80" height="95.10"/></clipPath><line x1="567.25" y1="152.50" x2="567.25" y2="247.60" stroke="#F2F2F2" stroke-width="0.8"/><line x1="598.55" y1="152.50" x2="598.55" y2="247.60" stroke="#F2F2F2" stroke-width="0.8"/><line x1="629.85" y1="152.50" x2="629.85" y2="247.60" stroke="#F2F2F2" stroke-width="0.8"/><line x1="661.15" y1="152.50" x2="661.15" y2="247.60" stroke="#F2F2F2" stroke-width="0.8"/><line x1="552.70" y1="231.75" x2="680.50" y2="231.75" stroke="#F2F2F2" stroke-width="0.8"/><line x1="552.70" y1="200.05" x2="680.50" y2="200.05" stroke="#F2F2F2" stroke-width="0.8"/><line x1="552.70" y1="168.35" x2="680.50" y2="168.35" stroke="#F2F2F2" stroke-width="0.8"/><line x1="582.90" y1="152.50" x2="582.90" y2="247.60" stroke="#EBEBEB" stroke-width="1"/><line x1="614.20" y1="152.50" x2="614.20" y2="247.60" stroke="#EBEBEB" stroke-width="1"/><line x1="645.50" y1="152.50" x2="645.50" y2="247.60" stroke="#EBEBEB" stroke-width="1"/><line x1="676.80" y1="152.50" x2="676.80" y2="247.60" stroke="#EBEBEB" stroke-width="1"/><line x1="552.70" y1="215.90" x2="680.50" y2="215.90" stroke="#EBEBEB" stroke-width="1"/><line x1="552.70" y1="184.20" x2="680.50" y2="184.20" stroke="#EBEBEB" stroke-width="1"/><path d="M556.60 193.65 L559.20 194.85 L562.30 195.15 L566.40 191.35 L570.40 186.95 L575.50 186.75 L580.70 185.65 L584.70 185.95 L587.80 188.25 L591.90 188.25 L596.50 189.25 L599.00 188.45 L605.20 188.75 L611.30 189.45 L615.00 189.25 L624.20 189.25 L633.40 189.95 L638.50 189.75 L642.60 188.55 L650.80 187.75 L655.90 187.95 L660.00 189.55 L665.10 190.45 L672.20 190.05 L676.80 188.55" fill="none" stroke="#DDDDDD" stroke-opacity="0.6" stroke-width="4.2" stroke-linejoin="round" stroke-linecap="butt" clip-path="url(#cph)"/><path d="M556.60 193.65 L559.20 194.85 L562.30 195.15 L566.40 191.35 L570.40 186.95 L575.50 186.75 L580.70 185.65 L584.70 185.95 L587.80 188.25 L591.90 188.25 L596.50 189.25 L599.00 188.45 L605.20 188.75 L611.30 189.45 L615.00 189.25 L624.20 189.25 L633.40 189.95 L638.50 189.75 L642.60 188.55 L650.80 187.75 L655.90 187.95 L660.00 189.55 L665.10 190.45 L672.20 190.05 L676.80 188.55" fill="none" stroke="#A65628" stroke-width="1.9" stroke-linejoin="round" stroke-linecap="butt" clip-path="url(#cph)"/><rect x="552.70" y="152.50" width="127.80" height="95.10" fill="none" stroke="#444" stroke-width="1.3"/><line x1="549.90" y1="247.60" x2="552.70" y2="247.60" stroke="#444" stroke-width="1.0"/><text class="tx" x="0" y="0" text-anchor="end" transform="translate(547.60 251.60) scale(1 1.0400)" style="font-size:10.00px;font-weight:bold;">0.5</text><line x1="549.90" y1="215.90" x2="552.70" y2="215.90" stroke="#444" stroke-width="1.0"/><text class="tx" x="0" y="0" text-anchor="end" transform="translate(547.60 219.90) scale(1 1.0400)" style="font-size:10.00px;font-weight:bold;">0.6</text><line x1="549.90" y1="184.20" x2="552.70" y2="184.20" stroke="#444" stroke-width="1.0"/><text class="tx" x="0" y="0" text-anchor="end" transform="translate(547.60 188.20) scale(1 1.0400)" style="font-size:10.00px;font-weight:bold;">0.7</text><line x1="549.90" y1="152.50" x2="552.70" y2="152.50" stroke="#444" stroke-width="1.0"/><text class="tx" x="0" y="0" text-anchor="end" transform="translate(547.60 156.50) scale(1 1.0400)" style="font-size:10.00px;font-weight:bold;">0.8</text><line x1="582.90" y1="247.60" x2="582.90" y2="250.40" stroke="#444" stroke-width="1.0"/><text class="tx" x="0" y="0" text-anchor="middle" transform="translate(582.90 259.95) scale(1 1.0400)" style="font-size:10.00px;font-weight:bold;">40</text><line x1="614.20" y1="247.60" x2="614.20" y2="250.40" stroke="#444" stroke-width="1.0"/><text class="tx" x="0" y="0" text-anchor="middle" transform="translate(614.20 259.95) scale(1 1.0400)" style="font-size:10.00px;font-weight:bold;">60</text><line x1="645.50" y1="247.60" x2="645.50" y2="250.40" stroke="#444" stroke-width="1.0"/><text class="tx" x="0" y="0" text-anchor="middle" transform="translate(645.50 259.95) scale(1 1.0400)" style="font-size:10.00px;font-weight:bold;">80</text><line x1="676.80" y1="247.60" x2="676.80" y2="250.40" stroke="#444" stroke-width="1.0"/><text class="tx" x="0" y="0" text-anchor="middle" transform="translate(676.80 259.95) scale(1 1.0400)" style="font-size:10.00px;font-weight:bold;">100</text><text class="t2" x="0" y="0" text-anchor="middle" transform="translate(616.60 274.60) scale(1 1.0500)" style="font-size:13.30px;font-weight:bold;">Base saturation (%)</text><text class="tx" x="523.50" y="145.55" style="font-size:13.15px;font-weight:bold;">(h)</text></g>
<g><clipPath id="cpi"><rect x="34.50" y="288.00" width="127.60" height="95.35"/></clipPath><line x1="42.93" y1="288.00" x2="42.93" y2="383.35" stroke="#F2F2F2" stroke-width="0.8"/><line x1="89.88" y1="288.00" x2="89.88" y2="383.35" stroke="#F2F2F2" stroke-width="0.8"/><line x1="136.82" y1="288.00" x2="136.82" y2="383.35" stroke="#F2F2F2" stroke-width="0.8"/><line x1="34.50" y1="367.46" x2="162.10" y2="367.46" stroke="#F2F2F2" stroke-width="0.8"/><line x1="34.50" y1="335.68" x2="162.10" y2="335.68" stroke="#F2F2F2" stroke-width="0.8"/><line x1="34.50" y1="303.89" x2="162.10" y2="303.89" stroke="#F2F2F2" stroke-width="0.8"/><line x1="66.40" y1="288.00" x2="66.40" y2="383.35" stroke="#EBEBEB" stroke-width="1"/><line x1="113.35" y1="288.00" x2="113.35" y2="383.35" stroke="#EBEBEB" stroke-width="1"/><line x1="160.30" y1="288.00" x2="160.30" y2="383.35" stroke="#EBEBEB" stroke-width="1"/><line x1="34.50" y1="351.57" x2="162.10" y2="351.57" stroke="#EBEBEB" stroke-width="1"/><line x1="34.50" y1="319.78" x2="162.10" y2="319.78" stroke="#EBEBEB" stroke-width="1"/><path d="M38.10 321.55 L42.70 319.65 L45.30 319.45 L47.50 324.45 L50.20 321.95 L52.40 324.55 L57.50 326.35 L61.60 326.35 L66.20 327.55 L72.90 325.55 L79.00 325.25 L83.10 324.25 L90.80 322.75 L94.30 322.95 L97.90 321.75 L102.10 322.55 L106.20 322.75 L108.20 323.95 L110.30 326.35 L113.10 326.85 L115.40 329.85 L119.50 330.75 L124.60 330.95 L127.60 332.15 L136.80 331.75 L140.90 331.65 L146.00 332.45 L148.60 330.75 L158.80 330.75" fill="none" stroke="#DDDDDD" stroke-opacity="0.6" stroke-width="4.2" stroke-linejoin="round" stroke-linecap="butt" clip-path="url(#cpi)"/><path d="M38.10 321.55 L42.70 319.65 L45.30 319.45 L47.50 324.45 L50.20 321.95 L52.40 324.55 L57.50 326.35 L61.60 326.35 L66.20 327.55 L72.90 325.55 L79.00 325.25 L83.10 324.25 L90.80 322.75 L94.30 322.95 L97.90 321.75 L102.10 322.55 L106.20 322.75 L108.20 323.95 L110.30 326.35 L113.10 326.85 L115.40 329.85 L119.50 330.75 L124.60 330.95 L127.60 332.15 L136.80 331.75 L140.90 331.65 L146.00 332.45 L148.60 330.75 L158.80 330.75" fill="none" stroke="#377EB8" stroke-width="1.9" stroke-linejoin="round" stroke-linecap="butt" clip-path="url(#cpi)"/><rect x="34.50" y="288.00" width="127.60" height="95.35" fill="none" stroke="#444" stroke-width="1.3"/><line x1="31.70" y1="383.35" x2="34.50" y2="383.35" stroke="#444" stroke-width="1.0"/><text class="tx" x="0" y="0" text-anchor="end" transform="translate(29.40 387.35) scale(1 1.0400)" style="font-size:10.00px;font-weight:bold;">0.5</text><line x1="31.70" y1="351.57" x2="34.50" y2="351.57" stroke="#444" stroke-width="1.0"/><text class="tx" x="0" y="0" text-anchor="end" transform="translate(29.40 355.57) scale(1 1.0400)" style="font-size:10.00px;font-weight:bold;">0.6</text><line x1="31.70" y1="319.78" x2="34.50" y2="319.78" stroke="#444" stroke-width="1.0"/><text class="tx" x="0" y="0" text-anchor="end" transform="translate(29.40 323.78) scale(1 1.0400)" style="font-size:10.00px;font-weight:bold;">0.7</text><line x1="31.70" y1="288.00" x2="34.50" y2="288.00" stroke="#444" stroke-width="1.0"/><text class="tx" x="0" y="0" text-anchor="end" transform="translate(29.40 292.00) scale(1 1.0400)" style="font-size:10.00px;font-weight:bold;">0.8</text><line x1="66.40" y1="383.35" x2="66.40" y2="386.15" stroke="#444" stroke-width="1.0"/><text class="tx" x="0" y="0" text-anchor="middle" transform="translate(66.40 395.70) scale(1 1.0400)" style="font-size:10.00px;font-weight:bold;">1000</text><line x1="113.35" y1="383.35" x2="113.35" y2="386.15" stroke="#444" stroke-width="1.0"/><text class="tx" x="0" y="0" text-anchor="middle" transform="translate(113.35 395.70) scale(1 1.0400)" style="font-size:10.00px;font-weight:bold;">2000</text><line x1="160.30" y1="383.35" x2="160.30" y2="386.15" stroke="#444" stroke-width="1.0"/><text class="tx" x="0" y="0" text-anchor="middle" transform="translate(160.30 395.70) scale(1 1.0400)" style="font-size:10.00px;font-weight:bold;">3000</text><text class="t2" x="0" y="0" text-anchor="middle" transform="translate(98.30 410.10) scale(1 1.0500)" style="font-size:13.30px;font-weight:bold;">PET (mm)</text><g transform="translate(9.50 335.68) rotate(-90)"><text class="t2" x="0" y="0" text-anchor="middle" transform="translate(0.00 0.00) scale(1 1.0500)" style="font-size:13.30px;font-weight:bold;">Predicted NUE</text></g><text class="tx" x="5.60" y="281.15" style="font-size:13.15px;font-weight:bold;">(i)</text></g>
<g><clipPath id="cpj"><rect x="207.10" y="288.00" width="127.90" height="95.35"/></clipPath><line x1="246.98" y1="288.00" x2="246.98" y2="383.35" stroke="#F2F2F2" stroke-width="0.8"/><line x1="288.14" y1="288.00" x2="288.14" y2="383.35" stroke="#F2F2F2" stroke-width="0.8"/><line x1="329.30" y1="288.00" x2="329.30" y2="383.35" stroke="#F2F2F2" stroke-width="0.8"/><line x1="207.10" y1="367.46" x2="335.00" y2="367.46" stroke="#F2F2F2" stroke-width="0.8"/><line x1="207.10" y1="335.68" x2="335.00" y2="335.68" stroke="#F2F2F2" stroke-width="0.8"/><line x1="207.10" y1="303.89" x2="335.00" y2="303.89" stroke="#F2F2F2" stroke-width="0.8"/><line x1="226.40" y1="288.00" x2="226.40" y2="383.35" stroke="#EBEBEB" stroke-width="1"/><line x1="267.56" y1="288.00" x2="267.56" y2="383.35" stroke="#EBEBEB" stroke-width="1"/><line x1="308.72" y1="288.00" x2="308.72" y2="383.35" stroke="#EBEBEB" stroke-width="1"/><line x1="207.10" y1="351.57" x2="335.00" y2="351.57" stroke="#EBEBEB" stroke-width="1"/><line x1="207.10" y1="319.78" x2="335.00" y2="319.78" stroke="#EBEBEB" stroke-width="1"/><path d="M210.90 326.05 L218.30 325.75 L223.90 327.35 L229.50 326.55 L235.70 325.55 L241.80 325.25 L249.50 325.05 L252.00 326.35 L256.10 325.75 L259.20 326.65 L263.20 325.25 L268.90 323.75 L274.10 324.55 L278.20 323.95 L283.30 322.75 L287.90 323.55 L290.40 322.25 L292.50 325.25 L295.00 324.25 L300.10 326.05 L302.20 332.45 L305.30 333.95 L309.90 334.45 L314.50 333.15 L317.00 329.35 L319.60 327.65 L322.10 328.05 L324.20 336.55 L330.80 337.55" fill="none" stroke="#DDDDDD" stroke-opacity="0.6" stroke-width="4.2" stroke-linejoin="round" stroke-linecap="butt" clip-path="url(#cpj)"/><path d="M210.90 326.05 L218.30 325.75 L223.90 327.35 L229.50 326.55 L235.70 325.55 L241.80 325.25 L249.50 325.05 L252.00 326.35 L256.10 325.75 L259.20 326.65 L263.20 325.25 L268.90 323.75 L274.10 324.55 L278.20 323.95 L283.30 322.75 L287.90 323.55 L290.40 322.25 L292.50 325.25 L295.00 324.25 L300.10 326.05 L302.20 332.45 L305.30 333.95 L309.90 334.45 L314.50 333.15 L317.00 329.35 L319.60 327.65 L322.10 328.05 L324.20 336.55 L330.80 337.55" fill="none" stroke="#377EB8" stroke-width="1.9" stroke-linejoin="round" stroke-linecap="butt" clip-path="url(#cpj)"/><rect x="207.10" y="288.00" width="127.90" height="95.35" fill="none" stroke="#444" stroke-width="1.3"/><line x1="204.30" y1="383.35" x2="207.10" y2="383.35" stroke="#444" stroke-width="1.0"/><text class="tx" x="0" y="0" text-anchor="end" transform="translate(202.00 387.35) scale(1 1.0400)" style="font-size:10.00px;font-weight:bold;">0.5</text><line x1="204.30" y1="351.57" x2="207.10" y2="351.57" stroke="#444" stroke-width="1.0"/><text class="tx" x="0" y="0" text-anchor="end" transform="translate(202.00 355.57) scale(1 1.0400)" style="font-size:10.00px;font-weight:bold;">0.6</text><line x1="204.30" y1="319.78" x2="207.10" y2="319.78" stroke="#444" stroke-width="1.0"/><text class="tx" x="0" y="0" text-anchor="end" transform="translate(202.00 323.78) scale(1 1.0400)" style="font-size:10.00px;font-weight:bold;">0.7</text><line x1="204.30" y1="288.00" x2="207.10" y2="288.00" stroke="#444" stroke-width="1.0"/><text class="tx" x="0" y="0" text-anchor="end" transform="translate(202.00 292.00) scale(1 1.0400)" style="font-size:10.00px;font-weight:bold;">0.8</text><line x1="226.40" y1="383.35" x2="226.40" y2="386.15" stroke="#444" stroke-width="1.0"/><text class="tx" x="0" y="0" text-anchor="middle" transform="translate(226.40 395.70) scale(1 1.0400)" style="font-size:10.00px;font-weight:bold;">40</text><line x1="267.56" y1="383.35" x2="267.56" y2="386.15" stroke="#444" stroke-width="1.0"/><text class="tx" x="0" y="0" text-anchor="middle" transform="translate(267.56 395.70) scale(1 1.0400)" style="font-size:10.00px;font-weight:bold;">60</text><line x1="308.72" y1="383.35" x2="308.72" y2="386.15" stroke="#444" stroke-width="1.0"/><text class="tx" x="0" y="0" text-anchor="middle" transform="translate(308.72 395.70) scale(1 1.0400)" style="font-size:10.00px;font-weight:bold;">80</text><text class="t2" x="0" y="0" text-anchor="middle" transform="translate(271.05 410.10) scale(1 1.0500)" style="font-size:13.30px;font-weight:bold;">Humidity (%)</text><text class="tx" x="178.70" y="281.15" style="font-size:13.15px;font-weight:bold;">(j)</text></g>
<g><clipPath id="cpk"><rect x="379.80" y="288.00" width="127.70" height="95.35"/></clipPath><line x1="417.60" y1="288.00" x2="417.60" y2="383.35" stroke="#F2F2F2" stroke-width="0.8"/><line x1="485.00" y1="288.00" x2="485.00" y2="383.35" stroke="#F2F2F2" stroke-width="0.8"/><line x1="379.80" y1="367.46" x2="507.50" y2="367.46" stroke="#F2F2F2" stroke-width="0.8"/><line x1="379.80" y1="335.68" x2="507.50" y2="335.68" stroke="#F2F2F2" stroke-width="0.8"/><line x1="379.80" y1="303.89" x2="507.50" y2="303.89" stroke="#F2F2F2" stroke-width="0.8"/><line x1="383.90" y1="288.00" x2="383.90" y2="383.35" stroke="#EBEBEB" stroke-width="1"/><line x1="451.30" y1="288.00" x2="451.30" y2="383.35" stroke="#EBEBEB" stroke-width="1"/><line x1="379.80" y1="351.57" x2="507.50" y2="351.57" stroke="#EBEBEB" stroke-width="1"/><line x1="379.80" y1="319.78" x2="507.50" y2="319.78" stroke="#EBEBEB" stroke-width="1"/><path d="M390.70 328.80 L396.20 329.30 L398.50 324.80 L400.20 320.90 L401.10 320.00 L403.20 319.50 L405.30 319.80 L405.90 321.50 L406.80 324.50 L408.30 326.50 L410.50 327.50 L413.50 327.40 L415.90 326.80 L418.00 325.80 L419.20 325.50 L421.40 326.40 L423.50 327.20 L428.20 328.00 L430.50 326.30 L435.20 324.90 L443.40 324.30 L450.40 324.90 L452.20 324.00 L454.50 325.50 L456.80 323.70 L458.00 323.90 L463.50 322.60 L470.70 322.60 L473.70 322.70 L479.90 322.10 L486.00 322.10 L491.10 322.40 L494.20 322.00 L497.70 321.80" fill="none" stroke="#DDDDDD" stroke-opacity="0.6" stroke-width="4.2" stroke-linejoin="round" stroke-linecap="butt" clip-path="url(#cpk)"/><path d="M390.70 328.80 L396.20 329.30 L398.50 324.80 L400.20 320.90 L401.10 320.00 L403.20 319.50 L405.30 319.80 L405.90 321.50 L406.80 324.50 L408.30 326.50 L410.50 327.50 L413.50 327.40 L415.90 326.80 L418.00 325.80 L419.20 325.50 L421.40 326.40 L423.50 327.20 L428.20 328.00 L430.50 326.30 L435.20 324.90 L443.40 324.30 L450.40 324.90 L452.20 324.00 L454.50 325.50 L456.80 323.70 L458.00 323.90 L463.50 322.60 L470.70 322.60 L473.70 322.70 L479.90 322.10 L486.00 322.10 L491.10 322.40 L494.20 322.00 L497.70 321.80" fill="none" stroke="#4DAF4A" stroke-width="1.9" stroke-linejoin="round" stroke-linecap="butt" clip-path="url(#cpk)"/><rect x="379.80" y="288.00" width="127.70" height="95.35" fill="none" stroke="#444" stroke-width="1.3"/><line x1="377.00" y1="383.35" x2="379.80" y2="383.35" stroke="#444" stroke-width="1.0"/><text class="tx" x="0" y="0" text-anchor="end" transform="translate(374.70 387.35) scale(1 1.0400)" style="font-size:10.00px;font-weight:bold;">0.5</text><line x1="377.00" y1="351.57" x2="379.80" y2="351.57" stroke="#444" stroke-width="1.0"/><text class="tx" x="0" y="0" text-anchor="end" transform="translate(374.70 355.57) scale(1 1.0400)" style="font-size:10.00px;font-weight:bold;">0.6</text><line x1="377.00" y1="319.78" x2="379.80" y2="319.78" stroke="#444" stroke-width="1.0"/><text class="tx" x="0" y="0" text-anchor="end" transform="translate(374.70 323.78) scale(1 1.0400)" style="font-size:10.00px;font-weight:bold;">0.7</text><line x1="377.00" y1="288.00" x2="379.80" y2="288.00" stroke="#444" stroke-width="1.0"/><text class="tx" x="0" y="0" text-anchor="end" transform="translate(374.70 292.00) scale(1 1.0400)" style="font-size:10.00px;font-weight:bold;">0.8</text><line x1="383.90" y1="383.35" x2="383.90" y2="386.15" stroke="#444" stroke-width="1.0"/><text class="tx" x="0" y="0" text-anchor="middle" transform="translate(383.90 395.70) scale(1 1.0400)" style="font-size:10.00px;font-weight:bold;">0.0</text><line x1="451.30" y1="383.35" x2="451.30" y2="386.15" stroke="#444" stroke-width="1.0"/><text class="tx" x="0" y="0" text-anchor="middle" transform="translate(451.30 395.70) scale(1 1.0400)" style="font-size:10.00px;font-weight:bold;">0.5</text><text class="t2" x="0" y="0" text-anchor="middle" transform="translate(443.65 410.10) scale(1 1.0500)" style="font-size:13.30px;font-weight:bold;">NDVI</text><text class="tx" x="352.50" y="281.15" style="font-size:13.15px;font-weight:bold;">(k)</text></g>
<g><clipPath id="cpl"><rect x="552.70" y="288.00" width="127.80" height="95.35"/></clipPath><line x1="589.55" y1="288.00" x2="589.55" y2="383.35" stroke="#F2F2F2" stroke-width="0.8"/><line x1="656.65" y1="288.00" x2="656.65" y2="383.35" stroke="#F2F2F2" stroke-width="0.8"/><line x1="552.70" y1="367.46" x2="680.50" y2="367.46" stroke="#F2F2F2" stroke-width="0.8"/><line x1="552.70" y1="335.68" x2="680.50" y2="335.68" stroke="#F2F2F2" stroke-width="0.8"/><line x1="552.70" y1="303.89" x2="680.50" y2="303.89" stroke="#F2F2F2" stroke-width="0.8"/><line x1="556.00" y1="288.00" x2="556.00" y2="383.35" stroke="#EBEBEB" stroke-width="1"/><line x1="623.10" y1="288.00" x2="623.10" y2="383.35" stroke="#EBEBEB" stroke-width="1"/><line x1="552.70" y1="351.57" x2="680.50" y2="351.57" stroke="#EBEBEB" stroke-width="1"/><line x1="552.70" y1="319.78" x2="680.50" y2="319.78" stroke="#EBEBEB" stroke-width="1"/><path d="M556.10 334.95 L560.70 329.35 L564.80 317.65 L569.40 317.15 L574.00 320.35 L578.10 320.45 L582.70 322.25 L590.90 322.25 L605.20 322.05 L609.30 322.95 L615.00 322.95 L623.20 322.75 L628.30 321.95 L632.40 322.05 L637.50 322.95 L645.70 322.75 L655.90 322.95 L667.10 322.95 L671.20 323.75 L676.30 323.75" fill="none" stroke="#DDDDDD" stroke-opacity="0.6" stroke-width="4.2" stroke-linejoin="round" stroke-linecap="butt" clip-path="url(#cpl)"/><path d="M556.10 334.95 L560.70 329.35 L564.80 317.65 L569.40 317.15 L574.00 320.35 L578.10 320.45 L582.70 322.25 L590.90 322.25 L605.20 322.05 L609.30 322.95 L615.00 322.95 L623.20 322.75 L628.30 321.95 L632.40 322.05 L637.50 322.95 L645.70 322.75 L655.90 322.95 L667.10 322.95 L671.20 323.75 L676.30 323.75" fill="none" stroke="#A65628" stroke-width="1.9" stroke-linejoin="round" stroke-linecap="butt" clip-path="url(#cpl)"/><rect x="552.70" y="288.00" width="127.80" height="95.35" fill="none" stroke="#444" stroke-width="1.3"/><line x1="549.90" y1="383.35" x2="552.70" y2="383.35" stroke="#444" stroke-width="1.0"/><text class="tx" x="0" y="0" text-anchor="end" transform="translate(547.60 387.35) scale(1 1.0400)" style="font-size:10.00px;font-weight:bold;">0.5</text><line x1="549.90" y1="351.57" x2="552.70" y2="351.57" stroke="#444" stroke-width="1.0"/><text class="tx" x="0" y="0" text-anchor="end" transform="translate(547.60 355.57) scale(1 1.0400)" style="font-size:10.00px;font-weight:bold;">0.6</text><line x1="549.90" y1="319.78" x2="552.70" y2="319.78" stroke="#444" stroke-width="1.0"/><text class="tx" x="0" y="0" text-anchor="end" transform="translate(547.60 323.78) scale(1 1.0400)" style="font-size:10.00px;font-weight:bold;">0.7</text><line x1="549.90" y1="288.00" x2="552.70" y2="288.00" stroke="#444" stroke-width="1.0"/><text class="tx" x="0" y="0" text-anchor="end" transform="translate(547.60 292.00) scale(1 1.0400)" style="font-size:10.00px;font-weight:bold;">0.8</text><line x1="556.00" y1="383.35" x2="556.00" y2="386.15" stroke="#444" stroke-width="1.0"/><text class="tx" x="0" y="0" text-anchor="middle" transform="translate(556.00 395.70) scale(1 1.0400)" style="font-size:10.00px;font-weight:bold;">0</text><line x1="623.10" y1="383.35" x2="623.10" y2="386.15" stroke="#444" stroke-width="1.0"/><text class="tx" x="0" y="0" text-anchor="middle" transform="translate(623.10 395.70) scale(1 1.0400)" style="font-size:10.00px;font-weight:bold;">50</text><text class="t2" x="0" y="0" text-anchor="middle" transform="translate(616.60 410.10) scale(1 1.0500)" style="font-size:13.30px;font-weight:bold;">Soil depth (cm)</text><text class="tx" x="525.70" y="281.15" style="font-size:13.15px;font-weight:bold;">(l)</text></g>
</svg></body></html>
